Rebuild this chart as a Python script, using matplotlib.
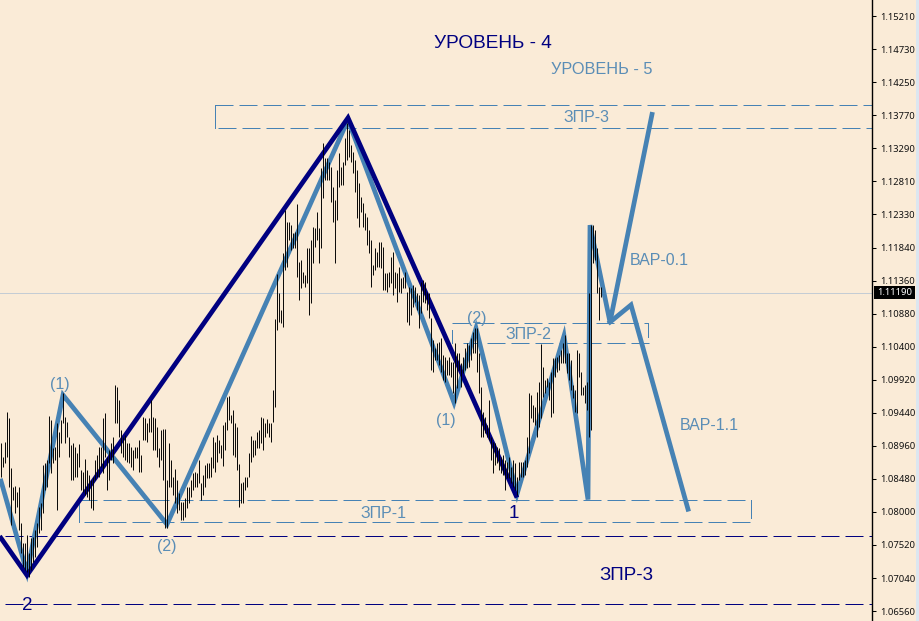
import matplotlib
matplotlib.use('Agg')
import matplotlib.pyplot as plt
from matplotlib.patches import Rectangle

plt.rcParams['font.family'] = ['Liberation Sans', 'DejaVu Sans']
plt.rcParams['lines.scale_dashes'] = False

BG = '#FAEBD7'
NAVY = '#000080'
STEEL = '#4682B4'
TEXT_STEEL = '#5A8DB6'

# bar highs and lows, one bar every two pixels
highs = [
    1.0900,1.0880,1.0902,1.0945,1.0937,1.0864,1.0836,1.0838,1.0829,1.0836,
    1.0784,1.0755,1.0755,1.0766,1.0740,1.0762,1.0764,1.0774,1.0784,1.0807,
    1.0813,1.0868,1.0871,1.0876,1.0940,1.0934,1.0893,1.0894,1.0929,1.0916,
    1.0934,1.0973,1.0938,1.0931,1.0909,1.0897,1.0900,1.0894,1.0886,1.0899,
    1.0861,1.0858,1.0877,1.0861,1.0854,1.0846,1.0851,1.0876,1.0883,1.0894,
    1.0894,1.0937,1.0944,1.0880,1.0890,1.0900,1.0909,1.0985,1.0982,1.0963,
    1.0919,1.0909,1.0912,1.0900,1.0900,1.0894,1.0890,1.0894,1.0894,1.0905,
    1.0883,1.0938,1.0937,1.0929,1.0937,1.0963,1.0938,1.0937,1.0924,1.0893,
    1.0919,1.0921,1.0921,1.0846,1.0900,1.0876,1.0851,1.0862,1.0846,1.0828,
    1.0814,1.0814,1.0820,1.0836,1.0836,1.0846,1.0857,1.0858,1.0857,1.0876,
    1.0842,1.0854,1.0868,1.0871,1.0871,1.0880,1.0909,1.0902,1.0912,1.0905,
    1.0897,1.0926,1.0931,1.0967,1.0969,1.0941,1.0948,1.0929,1.0924,1.0870,
    1.0842,1.0844,1.0851,1.0851,1.0886,1.0910,1.0905,1.0905,1.0916,1.0919,
    1.0938,1.0937,1.0929,1.0935,1.0929,1.0929,1.0977,1.1080,1.1146,1.1118,
    1.1094,1.1176,1.1239,1.1221,1.1221,1.1217,1.1205,1.1207,1.1248,1.1163,
    1.1166,1.1149,1.1145,1.1184,1.1184,1.1195,1.1214,1.1213,1.1236,1.1213,
    1.1300,1.1336,1.1315,1.1315,1.1309,1.1302,1.1272,1.1253,1.1297,1.1322,
    1.1302,1.1309,1.1344,1.1366,1.1355,1.1333,1.1323,1.1312,1.1297,1.1278,
    1.1258,1.1249,1.1235,1.1229,1.1210,1.1195,1.1159,1.1184,1.1178,1.1192,
    1.1192,1.1185,1.1147,1.1147,1.1149,1.1171,1.1178,1.1149,1.1147,1.1156,
    1.1140,1.1142,1.1149,1.1120,1.1127,1.1126,1.1130,1.1127,1.1118,1.1115,
    1.1134,1.1137,1.1134,1.1120,1.1118,1.1082,1.1050,1.1038,1.1046,1.1047,
    1.1053,1.1028,1.1025,1.1021,1.1025,1.1018,1.1018,1.1046,1.1031,1.1031,
    1.1017,1.1025,1.1038,1.1046,1.1043,1.1053,1.1062,1.1067,1.1067,1.1031,
    1.0982,1.0945,1.0938,1.0926,1.0963,1.0909,1.0902,1.0900,1.0894,1.0893,
    1.0880,1.0883,1.0876,1.0873,1.0880,1.0865,1.0876,1.0871,1.0851,1.0873,
    1.0873,1.0873,1.0876,1.0909,1.0973,1.0970,1.0955,1.0953,1.0974,1.0989,
    1.1044,1.1011,1.0992,1.0995,1.0989,1.1003,1.1024,1.1024,1.1025,1.1028,
    1.1035,1.1046,1.1057,1.1031,1.1031,1.1021,1.0985,1.0977,1.1035,1.1031,
    1.1003,1.0982,1.0985,1.0989,1.1118,1.1217,1.1217,1.1210,1.1184,1.1127,1.1127,
]
lows = [
    1.0851,1.0865,1.0871,1.0880,1.0836,1.0781,1.0817,1.0798,1.0807,1.0774,
    1.0740,1.0720,1.0716,1.0713,1.0705,1.0716,1.0727,1.0735,1.0749,1.0769,
    1.0774,1.0798,1.0832,1.0836,1.0871,1.0857,1.0871,1.0876,1.0803,1.0880,
    1.0900,1.0929,1.0900,1.0909,1.0880,1.0846,1.0846,1.0851,1.0851,1.0865,
    1.0832,1.0829,1.0825,1.0822,1.0817,1.0806,1.0803,1.0846,1.0851,1.0851,
    1.0865,1.0857,1.0880,1.0832,1.0846,1.0876,1.0871,1.0929,1.0929,1.0909,
    1.0886,1.0880,1.0876,1.0873,1.0871,1.0865,1.0861,1.0878,1.0878,1.0858,
    1.0858,1.0905,1.0905,1.0902,1.0916,1.0916,1.0890,1.0890,1.0880,1.0865,
    1.0876,1.0846,1.0777,1.0777,1.0836,1.0836,1.0825,1.0813,1.0798,1.0803,
    1.0788,1.0788,1.0793,1.0806,1.0813,1.0822,1.0832,1.0836,1.0836,1.0842,
    1.0817,1.0825,1.0836,1.0849,1.0849,1.0851,1.0864,1.0858,1.0873,1.0886,
    1.0878,1.0867,1.0890,1.0919,1.0934,1.0929,1.0883,1.0880,1.0861,1.0807,
    1.0813,1.0813,1.0832,1.0836,1.0851,1.0873,1.0880,1.0883,1.0893,1.0893,
    1.0900,1.0890,1.0909,1.0915,1.0909,1.0902,1.0931,1.0953,1.1065,1.1076,
    1.1075,1.1069,1.1152,1.1156,1.1195,1.1181,1.1184,1.1184,1.1142,1.1108,
    1.1126,1.1133,1.1127,1.1133,1.1086,1.1104,1.1162,1.1185,1.1195,1.1162,
    1.1184,1.1256,1.1283,1.1283,1.1283,1.1251,1.1221,1.1162,1.1224,1.1272,
    1.1275,1.1275,1.1304,1.1312,1.1316,1.1309,1.1293,1.1265,1.1227,1.1214,
    1.1236,1.1214,1.1210,1.1188,1.1176,1.1127,1.1145,1.1152,1.1156,1.1156,
    1.1155,1.1123,1.1123,1.1120,1.1127,1.1133,1.1115,1.1126,1.1105,1.1120,
    1.1118,1.1126,1.1126,1.1076,1.1072,1.1086,1.1098,1.1105,1.1094,1.1067,
    1.1089,1.1105,1.1104,1.1094,1.1082,1.1006,1.1003,1.1021,1.1021,1.1014,
    1.1003,1.0992,1.0989,1.0999,1.0999,1.0996,1.0973,1.0959,1.0980,1.1006,
    1.0982,1.1002,1.1006,1.1009,1.1011,1.1021,1.1031,1.1031,1.1003,1.0973,
    1.0909,1.0909,1.0915,1.0909,1.0905,1.0876,1.0857,1.0868,1.0871,1.0861,
    1.0857,1.0854,1.0832,1.0849,1.0849,1.0842,1.0836,1.0832,1.0825,1.0846,
    1.0851,1.0851,1.0854,1.0865,1.0886,1.0937,1.0931,1.0926,1.0909,1.0924,
    1.0937,1.0967,1.0973,1.0982,1.0963,1.0938,1.0944,1.0996,1.1003,1.1006,
    1.1017,1.1017,1.1017,1.1002,1.0992,1.0977,1.0966,1.0945,1.0944,1.0996,
    1.0970,1.0970,1.0959,1.0948,1.0909,1.0919,1.1162,1.1166,1.1118,1.1079,1.1113,
]
bars = list(range(len(highs)))

# wave lines: bar number, price
navy_x = [0, 13, 173.5, 257.5]
navy_y = [1.0762, 1.0708, 1.1373, 1.0824]
wave_x = [0, 13, 31, 83, 173.5, 226.5, 237.5, 258, 281.5, 293.5, 294.5, 304.5, 325.5]
wave_y = [1.0845, 1.0712, 1.0970, 1.0782, 1.1370, 1.0959, 1.1067, 1.0826, 1.1056, 1.0818, 1.1217, 1.1076, 1.1378]
branch_x = [304.5, 315, 343.5]
branch_y = [1.1076, 1.1101, 1.0804]

# dashed levels
level_navy = [1.0765, 1.06662]
zone3 = [1.13916, 1.13589]
zone2 = [1.10747, 1.10456]
zone1 = [1.08169, 1.07850]
last_price = 1.11190

tick_values = [1.15210, 1.14730, 1.14250, 1.13770, 1.13290, 1.12810, 1.12330, 1.11840, 1.11360, 1.10880,
               1.10400, 1.09920, 1.09440, 1.08960, 1.08480, 1.08000, 1.07520, 1.07040, 1.06560]
tick_labels = ['%.5f' % v for v in tick_values]

fig = plt.figure(figsize=(9.2, 6.21), dpi=100, facecolor=BG)
ax = fig.add_axes([0, 0, 872.5 / 920, 1], facecolor=BG)
ax.set_xlim(-0.5, 435.75)
ax.set_ylim(1.06415, 1.15443)

thin = 0.72
dash = (0, (12.96, 4.32))
thick = 3.4

ax.axhline(last_price, color='#C4CCD4', lw=thin, zorder=1)

# zones
ax.plot([107, 435.75], [zone3[0], zone3[0]], color=STEEL, lw=thin, ls=dash, zorder=2)
ax.plot([108.5, 435.75], [zone3[1], zone3[1]], color=STEEL, lw=thin, ls=dash, zorder=2)
ax.plot([107, 107], zone3, color=STEEL, lw=thin, zorder=2)
ax.plot([225.5, 323.5], [zone2[0], zone2[0]], color=STEEL, lw=thin, ls=dash, zorder=2)
ax.plot([231, 324], [zone2[1], zone2[1]], color=STEEL, lw=thin, ls=dash, zorder=2)
ax.plot([225.5, 225.5], [1.1065, zone2[1]], color=STEEL, lw=thin, zorder=2)
ax.plot([323.5, 323.5], [zone2[0], 1.1055], color=STEEL, lw=thin, zorder=2)
ax.plot([39, 375], [zone1[0], zone1[0]], color=STEEL, lw=thin, ls=dash, zorder=2)
ax.plot([41.5, 375], [zone1[1], zone1[1]], color=STEEL, lw=thin, ls=dash, zorder=2)
ax.plot([39, 39], zone1, color=STEEL, lw=thin, zorder=2)
ax.plot([375, 375], [zone1[0], 1.0791], color=STEEL, lw=thin, zorder=2)
for lev in level_navy:
    ax.plot([2, 435.75], [lev, lev], color=NAVY, lw=thin, ls=dash, zorder=2)

# waves, the bars go over them
ax.plot(wave_x, wave_y, color=STEEL, lw=thick, solid_joinstyle='miter', zorder=3)
ax.plot(branch_x, branch_y, color=STEEL, lw=thick, solid_joinstyle='miter', zorder=3)
ax.plot(navy_x, navy_y, color=NAVY, lw=thick, solid_joinstyle='miter', zorder=4)
ax.vlines(bars, lows, highs, color='black', lw=0.68, zorder=5)

for side in ['top', 'left', 'bottom']:
    ax.spines[side].set_visible(False)
ax.spines['right'].set_linewidth(1.0)
ax.set_xticks([])
ax.yaxis.tick_right()
ax.set_yticks(tick_values)
ax.set_yticklabels(tick_labels, fontsize=6.8, family=['Noto Sans', 'DejaVu Sans'], color='#111111')
ax.tick_params(axis='y', length=3, width=0.75, pad=2.5)

# current price box
fig.patches.append(Rectangle((874 / 920, 1 - 299 / 621), 41 / 920, 13 / 621, transform=fig.transFigure,
                             facecolor='black', edgecolor='none'))
fig.text(894.5 / 920, 1 - 292.5 / 621, '%.5f' % last_price, color='white', fontsize=6.8,
         family=['Noto Sans', 'DejaVu Sans'], ha='center', va='center')
fig.patches.append(Rectangle((916 / 920, 0), 4 / 920, 1, transform=fig.transFigure,
                             facecolor='#DCE6F0', edgecolor='none'))

labels = [
    ('УРОВЕНЬ - 4', 492.5, 44, NAVY, 13.7),
    ('УРОВЕНЬ - 5', 602, 69.5, TEXT_STEEL, 11.7),
    ('ЗПР-3', 587, 118, TEXT_STEEL, 11.5),
    ('ВАР-0.1', 659, 260, TEXT_STEEL, 11.5),
    ('ВАР-1.1', 709, 425, TEXT_STEEL, 11.5),
    ('ЗПР-2', 528, 335, TEXT_STEEL, 11.5),
    ('ЗПР-1', 384, 514, TEXT_STEEL, 11.5),
    ('(1)', 60, 385, TEXT_STEEL, 11.5),
    ('(2)', 167, 546, TEXT_STEEL, 11.5),
    ('(1)', 446, 420, TEXT_STEEL, 11.5),
    ('(2)', 477, 318, TEXT_STEEL, 11.5),
    ('1', 514, 514, NAVY, 13.5),
    ('2', 27, 606, NAVY, 13.5),
    ('ЗПР-3', 626, 576, NAVY, 13.5),
]
for txt, px, py, col, size in labels:
    fig.text(px / 920, 1 - py / 621, txt, color=col, fontsize=size, ha='center', va='center')

fig.savefig('out.png', dpi=100, facecolor=BG)
